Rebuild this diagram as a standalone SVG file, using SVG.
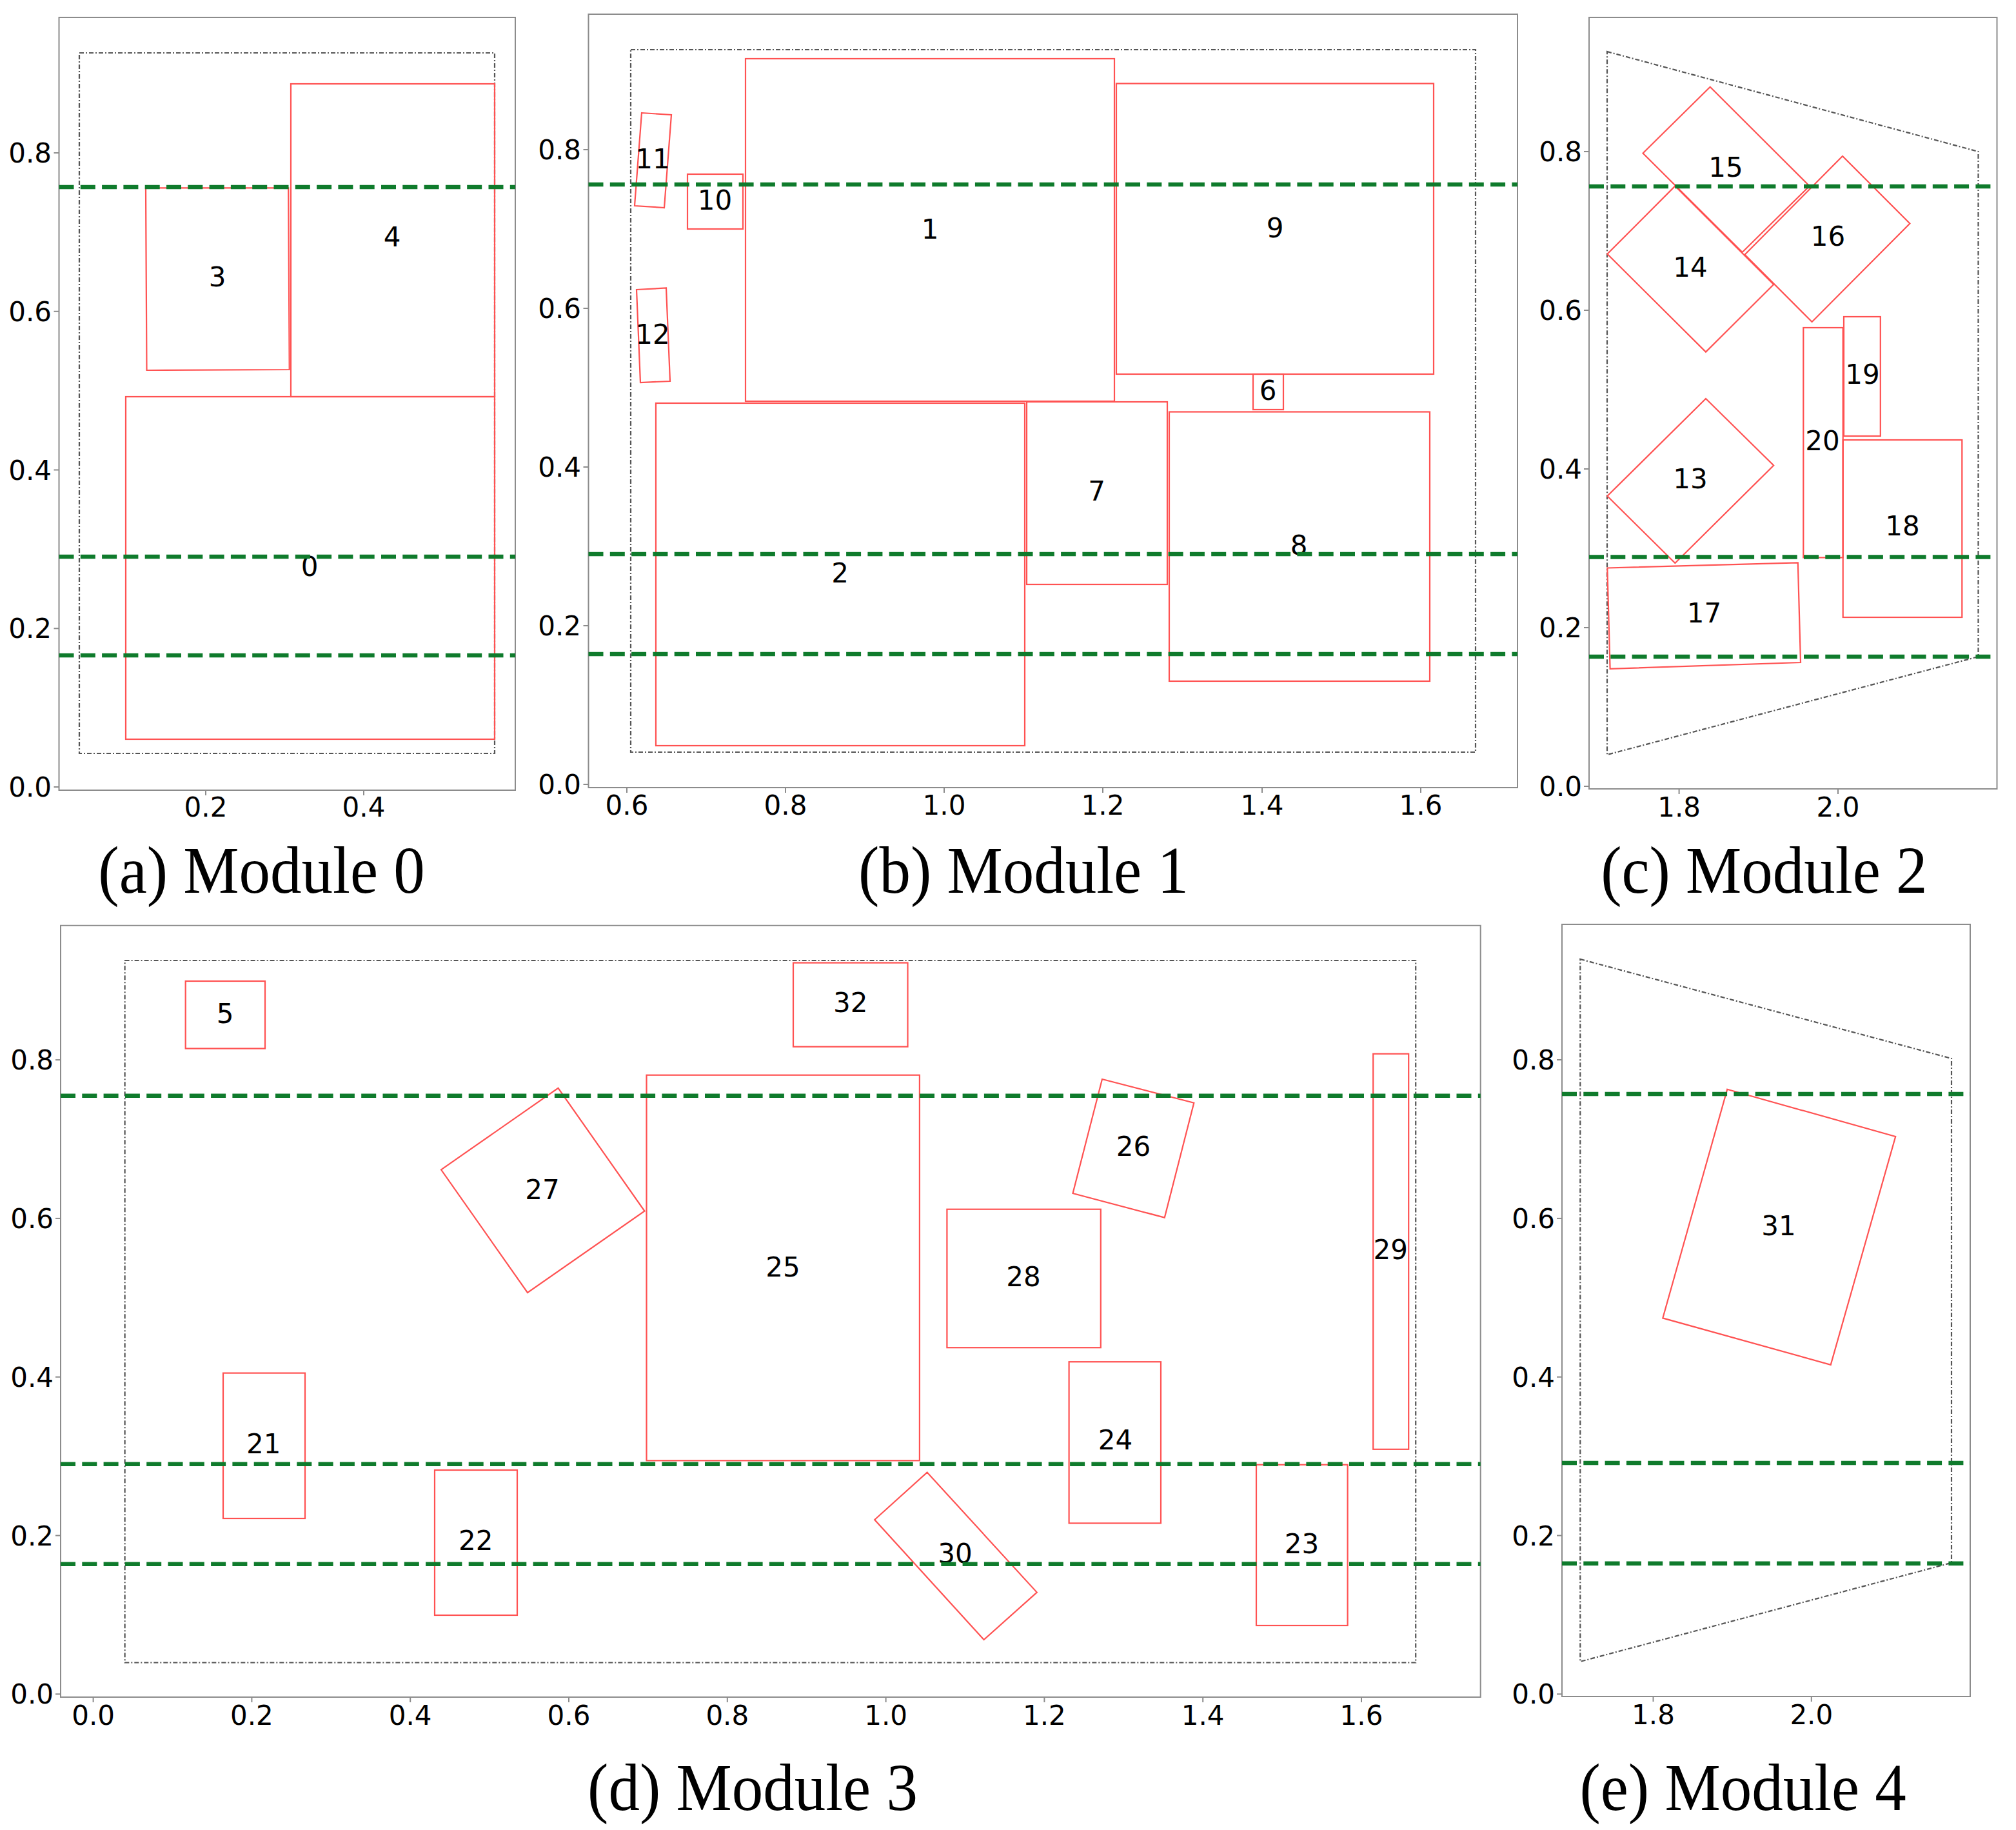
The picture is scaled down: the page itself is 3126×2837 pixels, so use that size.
<svg xmlns="http://www.w3.org/2000/svg" width="3126" height="2837" viewBox="0 0 3126 2837">
<style>
.frame{fill:none;stroke:#8c8c8c;stroke-width:2}
.tick{stroke:#8c8c8c;stroke-width:2}
.tl{font-family:'DejaVu Sans','Liberation Sans',sans-serif;font-size:42px;fill:#000}
.ty{text-anchor:end}
.tx{text-anchor:middle}
.bound{fill:none;stroke:#555;stroke-width:2.2;stroke-dasharray:7 3 2 3}
.green{stroke:#0f7b2c;stroke-width:6.5;stroke-dasharray:23 10.3;fill:none}
.mod{fill:none;stroke:#ff5252;stroke-width:2.2}
.lbl{font-family:'DejaVu Sans','Liberation Sans',sans-serif;font-size:42px;fill:#000;text-anchor:middle}
.cap{font-family:'Liberation Serif','Times New Roman',serif;font-size:97px;fill:#000;text-anchor:middle}
</style>
<rect width="3126" height="2837" fill="#fff"/>

<!-- ============ Panel (a) Module 0 ============ -->
<g id="panel-a">
  <rect class="frame" x="91.5" y="27" width="707.5" height="1198"/>
  <g id="a-axes">
    <line class="tick" x1="83.5" y1="1220" x2="91.5" y2="1220"/>
    <line class="tick" x1="83.5" y1="974.3" x2="91.5" y2="974.3"/>
    <line class="tick" x1="83.5" y1="728.5" x2="91.5" y2="728.5"/>
    <line class="tick" x1="83.5" y1="482.8" x2="91.5" y2="482.8"/>
    <line class="tick" x1="83.5" y1="237" x2="91.5" y2="237"/>
    <text class="tl ty" x="80" y="1235">0.0</text>
    <text class="tl ty" x="80" y="989">0.2</text>
    <text class="tl ty" x="80" y="744">0.4</text>
    <text class="tl ty" x="80" y="498">0.6</text>
    <text class="tl ty" x="80" y="252">0.8</text>
    <line class="tick" x1="319" y1="1225" x2="319" y2="1233"/>
    <line class="tick" x1="564" y1="1225" x2="564" y2="1233"/>
    <text class="tl tx" x="319" y="1266">0.2</text>
    <text class="tl tx" x="564" y="1266">0.4</text>
  </g>
  <rect class="bound" x="123" y="82" width="644" height="1086"/>
  <g id="a-node-0"><rect class="mod" x="195" y="615" width="572" height="531"/><text class="lbl" x="480" y="893">0</text></g>
  <g id="a-node-3"><polygon class="mod" points="226,291.4 447.2,291.4 448.7,573 227.5,574"/><text class="lbl" x="337" y="444">3</text></g>
  <g id="a-node-4"><rect class="mod" x="451" y="130" width="316" height="485"/><text class="lbl" x="608" y="382">4</text></g>
  <g id="a-lines">
    <line class="green" x1="91.5" y1="290" x2="799" y2="290"/>
    <line class="green" x1="91.5" y1="863" x2="799" y2="863"/>
    <line class="green" x1="91.5" y1="1016" x2="799" y2="1016"/>
  </g>
  <text class="cap" transform="translate(405.5,1384) scale(1,1.06)">(a) Module 0</text>
</g>

<!-- ============ Panel (b) Module 1 ============ -->
<g id="panel-b">
  <rect class="frame" x="912.5" y="22" width="1440.5" height="1199"/>
  <g id="b-axes">
    <line class="tick" x1="904.5" y1="1216" x2="912.5" y2="1216"/>
    <line class="tick" x1="904.5" y1="970" x2="912.5" y2="970"/>
    <line class="tick" x1="904.5" y1="724" x2="912.5" y2="724"/>
    <line class="tick" x1="904.5" y1="478" x2="912.5" y2="478"/>
    <line class="tick" x1="904.5" y1="232" x2="912.5" y2="232"/>
    <text class="tl ty" x="901" y="1231">0.0</text>
    <text class="tl ty" x="901" y="985">0.2</text>
    <text class="tl ty" x="901" y="739">0.4</text>
    <text class="tl ty" x="901" y="493">0.6</text>
    <text class="tl ty" x="901" y="247">0.8</text>
    <line class="tick" x1="972" y1="1221" x2="972" y2="1229"/>
    <line class="tick" x1="1218" y1="1221" x2="1218" y2="1229"/>
    <line class="tick" x1="1464" y1="1221" x2="1464" y2="1229"/>
    <line class="tick" x1="1710" y1="1221" x2="1710" y2="1229"/>
    <line class="tick" x1="1957" y1="1221" x2="1957" y2="1229"/>
    <line class="tick" x1="2203" y1="1221" x2="2203" y2="1229"/>
    <text class="tl tx" x="972" y="1263">0.6</text>
    <text class="tl tx" x="1218" y="1263">0.8</text>
    <text class="tl tx" x="1464" y="1263">1.0</text>
    <text class="tl tx" x="1710" y="1263">1.2</text>
    <text class="tl tx" x="1957" y="1263">1.4</text>
    <text class="tl tx" x="2203" y="1263">1.6</text>
  </g>
  <rect class="bound" x="978" y="77" width="1310" height="1089"/>
  <g id="b-node-1"><rect class="mod" x="1156" y="91" width="572" height="531"/><text class="lbl" x="1442" y="370">1</text></g>
  <g id="b-node-2"><rect class="mod" x="1017" y="625" width="572" height="531"/><text class="lbl" x="1302.6" y="903">2</text></g>
  <g id="b-node-6"><rect class="mod" x="1943" y="580" width="47" height="55"/><text class="lbl" x="1966" y="620">6</text></g>
  <g id="b-node-7"><rect class="mod" x="1592" y="623" width="218" height="283"/><text class="lbl" x="1700.6" y="776">7</text></g>
  <g id="b-node-8"><rect class="mod" x="1813" y="638.5" width="404" height="417.5"/><text class="lbl" x="2014" y="860">8</text></g>
  <g id="b-node-9"><rect class="mod" x="1731" y="129.5" width="492" height="450.5"/><text class="lbl" x="1977" y="368">9</text></g>
  <g id="b-node-10"><rect class="mod" x="1066" y="270" width="86" height="85"/><text class="lbl" x="1108.5" y="325">10</text></g>
  <g id="b-node-11"><polygon class="mod" points="995,175 1041,178 1030,322 984,319"/><text class="lbl" x="1012" y="261">11</text></g>
  <g id="b-node-12"><polygon class="mod" points="987,449 1033,446.5 1039,591 993,593"/><text class="lbl" x="1012" y="533">12</text></g>
  <g id="b-lines">
    <line class="green" x1="912.5" y1="286" x2="2353" y2="286"/>
    <line class="green" x1="912.5" y1="859" x2="2353" y2="859"/>
    <line class="green" x1="912.5" y1="1014" x2="2353" y2="1014"/>
  </g>
  <text class="cap" transform="translate(1587,1384) scale(1,1.06)">(b) Module 1</text>
</g>

<!-- ============ Panel (c) Module 2 ============ -->
<g id="panel-c">
  <rect class="frame" x="2464" y="27" width="632.5" height="1196"/>
  <g id="c-axes">
    <line class="tick" x1="2456" y1="1219" x2="2464" y2="1219"/>
    <line class="tick" x1="2456" y1="973" x2="2464" y2="973"/>
    <line class="tick" x1="2456" y1="727" x2="2464" y2="727"/>
    <line class="tick" x1="2456" y1="481" x2="2464" y2="481"/>
    <line class="tick" x1="2456" y1="235" x2="2464" y2="235"/>
    <text class="tl ty" x="2453" y="1234">0.0</text>
    <text class="tl ty" x="2453" y="988">0.2</text>
    <text class="tl ty" x="2453" y="742">0.4</text>
    <text class="tl ty" x="2453" y="496">0.6</text>
    <text class="tl ty" x="2453" y="250">0.8</text>
    <line class="tick" x1="2603.6" y1="1223" x2="2603.6" y2="1231"/>
    <line class="tick" x1="2850" y1="1223" x2="2850" y2="1231"/>
    <text class="tl tx" x="2603.6" y="1266">1.8</text>
    <text class="tl tx" x="2850" y="1266">2.0</text>
  </g>
  <polygon class="bound" points="2492,80 3067.5,235 3067.5,1018 2492,1170"/>
  <g id="c-node-13"><polygon class="mod" points="2645,618 2750.2,721.5 2597.4,873 2492.3,769"/><text class="lbl" x="2621" y="757">13</text></g>
  <g id="c-node-14"><polygon class="mod" points="2597.4,288.4 2750.2,441 2645,545.6 2492.3,393.8"/><text class="lbl" x="2621" y="429">14</text></g>
  <g id="c-node-15"><polygon class="mod" points="2547.5,237.5 2651.7,134.8 2805.8,288.4 2701.6,391"/><text class="lbl" x="2676" y="274">15</text></g>
  <g id="c-node-16"><polygon class="mod" points="2857,242 2961.4,346.5 2809.6,499 2705.5,394.7"/><text class="lbl" x="2834.4" y="381">16</text></g>
  <g id="c-node-17"><polygon class="mod" points="2492.3,880.5 2787.8,872.5 2792,1027 2496.6,1036.8"/><text class="lbl" x="2642.6" y="965">17</text></g>
  <g id="c-node-18"><rect class="mod" x="2857.7" y="682" width="184.6" height="275"/><text class="lbl" x="2950" y="830">18</text></g>
  <g id="c-node-19"><rect class="mod" x="2859" y="491" width="56.8" height="185"/><text class="lbl" x="2888" y="595">19</text></g>
  <g id="c-node-20"><rect class="mod" x="2796.3" y="508" width="61.4" height="356.4"/><text class="lbl" x="2826" y="698">20</text></g>
  <g id="c-lines">
    <line class="green" x1="2464" y1="289" x2="3096.5" y2="289"/>
    <line class="green" x1="2464" y1="863.5" x2="3096.5" y2="863.5"/>
    <line class="green" x1="2464" y1="1018" x2="3096.5" y2="1018"/>
  </g>
  <text class="cap" transform="translate(2735.4,1384) scale(1,1.06)">(c) Module 2</text>
</g>

<!-- ============ Panel (d) Module 3 ============ -->
<g id="panel-d">
  <rect class="frame" x="94" y="1434.8" width="2201.7" height="1196.2"/>
  <g id="d-axes">
    <line class="tick" x1="86" y1="2626.3" x2="94" y2="2626.3"/>
    <line class="tick" x1="86" y1="2380.5" x2="94" y2="2380.5"/>
    <line class="tick" x1="86" y1="2134.7" x2="94" y2="2134.7"/>
    <line class="tick" x1="86" y1="1888.9" x2="94" y2="1888.9"/>
    <line class="tick" x1="86" y1="1643.1" x2="94" y2="1643.1"/>
    <text class="tl ty" x="83" y="2641">0.0</text>
    <text class="tl ty" x="83" y="2396">0.2</text>
    <text class="tl ty" x="83" y="2150">0.4</text>
    <text class="tl ty" x="83" y="1904">0.6</text>
    <text class="tl ty" x="83" y="1658">0.8</text>
    <line class="tick" x1="144.6" y1="2631" x2="144.6" y2="2639"/>
    <line class="tick" x1="390.4" y1="2631" x2="390.4" y2="2639"/>
    <line class="tick" x1="636.2" y1="2631" x2="636.2" y2="2639"/>
    <line class="tick" x1="882" y1="2631" x2="882" y2="2639"/>
    <line class="tick" x1="1127.8" y1="2631" x2="1127.8" y2="2639"/>
    <line class="tick" x1="1373.6" y1="2631" x2="1373.6" y2="2639"/>
    <line class="tick" x1="1619.4" y1="2631" x2="1619.4" y2="2639"/>
    <line class="tick" x1="1865.2" y1="2631" x2="1865.2" y2="2639"/>
    <line class="tick" x1="2111" y1="2631" x2="2111" y2="2639"/>
    <text class="tl tx" x="144.6" y="2674">0.0</text>
    <text class="tl tx" x="390.4" y="2674">0.2</text>
    <text class="tl tx" x="636.2" y="2674">0.4</text>
    <text class="tl tx" x="882" y="2674">0.6</text>
    <text class="tl tx" x="1127.8" y="2674">0.8</text>
    <text class="tl tx" x="1373.6" y="2674">1.0</text>
    <text class="tl tx" x="1619.4" y="2674">1.2</text>
    <text class="tl tx" x="1865.2" y="2674">1.4</text>
    <text class="tl tx" x="2111" y="2674">1.6</text>
  </g>
  <rect class="bound" x="193.6" y="1489" width="2001.6" height="1088.5"/>
  <g id="d-node-5"><rect class="mod" x="287.7" y="1521" width="123.3" height="104.5"/><text class="lbl" x="349" y="1586">5</text></g>
  <g id="d-node-21"><rect class="mod" x="346" y="2128.6" width="127" height="225.4"/><text class="lbl" x="408.7" y="2253">21</text></g>
  <g id="d-node-22"><rect class="mod" x="674" y="2279" width="128" height="225"/><text class="lbl" x="737.7" y="2403">22</text></g>
  <g id="d-node-23"><rect class="mod" x="1948" y="2270.7" width="141.6" height="249.3"/><text class="lbl" x="2018.5" y="2408">23</text></g>
  <g id="d-node-24"><rect class="mod" x="1657.6" y="2111.2" width="142.4" height="250.2"/><text class="lbl" x="1729.5" y="2247">24</text></g>
  <g id="d-node-25"><rect class="mod" x="1002.5" y="1666.7" width="423.4" height="597.6"/><text class="lbl" x="1214" y="1979">25</text></g>
  <g id="d-node-26"><polygon class="mod" points="1709,1673 1851.3,1709.8 1805.8,1887.6 1663.5,1850"/><text class="lbl" x="1757.4" y="1792">26</text></g>
  <g id="d-node-27"><polygon class="mod" points="684,1813.3 865.5,1686.9 999.5,1877.5 818,2004"/><text class="lbl" x="841" y="1859">27</text></g>
  <g id="d-node-28"><rect class="mod" x="1468.4" y="1874.7" width="238.4" height="214.5"/><text class="lbl" x="1587" y="1993.5">28</text></g>
  <g id="d-node-29"><rect class="mod" x="2129.2" y="1633.7" width="55" height="613.1"/><text class="lbl" x="2156.3" y="1952">29</text></g>
  <g id="d-node-30"><polygon class="mod" points="1356.2,2356 1437.6,2282.6 1607.8,2468.6 1525.6,2542"/><text class="lbl" x="1481" y="2423">30</text></g>
  <g id="d-node-32"><rect class="mod" x="1230" y="1492.6" width="177.5" height="130.1"/><text class="lbl" x="1318.8" y="1569">32</text></g>
  <g id="d-lines">
    <line class="green" x1="94" y1="1698.8" x2="2295.7" y2="1698.8"/>
    <line class="green" x1="94" y1="2269.8" x2="2295.7" y2="2269.8"/>
    <line class="green" x1="94" y1="2424.7" x2="2295.7" y2="2424.7"/>
  </g>
  <text class="cap" transform="translate(1167,2806) scale(1,1.06)">(d) Module 3</text>
</g>

<!-- ============ Panel (e) Module 4 ============ -->
<g id="panel-e">
  <rect class="frame" x="2422" y="1433" width="633" height="1197"/>
  <g id="e-axes">
    <line class="tick" x1="2414" y1="2626.3" x2="2422" y2="2626.3"/>
    <line class="tick" x1="2414" y1="2380.5" x2="2422" y2="2380.5"/>
    <line class="tick" x1="2414" y1="2134.7" x2="2422" y2="2134.7"/>
    <line class="tick" x1="2414" y1="1888.9" x2="2422" y2="1888.9"/>
    <line class="tick" x1="2414" y1="1643" x2="2422" y2="1643"/>
    <text class="tl ty" x="2411" y="2641">0.0</text>
    <text class="tl ty" x="2411" y="2396">0.2</text>
    <text class="tl ty" x="2411" y="2150">0.4</text>
    <text class="tl ty" x="2411" y="1904">0.6</text>
    <text class="tl ty" x="2411" y="1658">0.8</text>
    <line class="tick" x1="2563.5" y1="2630" x2="2563.5" y2="2638"/>
    <line class="tick" x1="2808.8" y1="2630" x2="2808.8" y2="2638"/>
    <text class="tl tx" x="2563.5" y="2673">1.8</text>
    <text class="tl tx" x="2808.8" y="2673">2.0</text>
  </g>
  <polygon class="bound" points="2450.3,1487 3026,1641 3026,2422.8 2450.3,2575.9"/>
  <g id="e-node-31"><polygon class="mod" points="2678.3,1688.7 2939.2,1762 2838.7,2115.8 2578.3,2043.4"/><text class="lbl" x="2758" y="1915">31</text></g>
  <g id="e-lines">
    <line class="green" x1="2422" y1="1696" x2="3055" y2="1696"/>
    <line class="green" x1="2422" y1="2268" x2="3055" y2="2268"/>
    <line class="green" x1="2422" y1="2423.7" x2="3055" y2="2423.7"/>
  </g>
  <text class="cap" transform="translate(2702.7,2806) scale(1,1.06)">(e) Module 4</text>
</g>
</svg>
